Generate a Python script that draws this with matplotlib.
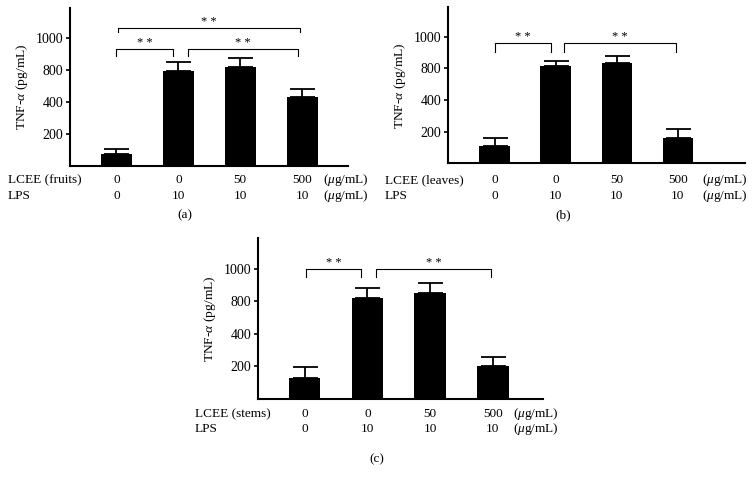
import numpy as np
import matplotlib.pyplot as plt
from matplotlib.transforms import blended_transform_factory

plt.rcParams['font.family'] = ['Liberation Serif', 'DejaVu Serif']
plt.rcParams['mathtext.fontset'] = 'custom'
plt.rcParams['mathtext.rm'] = 'Liberation Serif'
plt.rcParams['mathtext.it'] = 'Liberation Serif:italic'

# data (TNF-alpha, pg/mL)
lcee = ['0', '0', '50', '500']
lps = ['0', '10', '10', '10']
fruits_mean = [71, 792, 818, 456]
fruits_top = [102, 848, 875, 556]
leaves_mean = [111, 812, 833, 162]
leaves_top = [162, 849, 879, 215]
stems_mean = [128, 822, 850, 204]
stems_top = [198, 878, 910, 258]

yticks = [200, 400, 800, 1000]

# the y axis in the source is not linear in its labels
lab = [0, 200, 400, 800, 1000, 1400]
pos = [0, 1, 2, 3, 4, 6]
def fwd(v):
    return np.interp(v, lab, pos)
def inv(p):
    return np.interp(p, pos, lab)

W, H = 753, 482
fig = plt.figure(figsize=(W / 100, H / 100), dpi=100)

def px(x, y):
    return x / W, 1 - y / H

def panel(box, mean, top, name, xlim, brackets, rows_y, label_x, unit_x, tag):
    l, r, b, t = box
    ax = fig.add_axes([l / W, 1 - b / H, (r - l) / W, (b - t) / H])
    ax.set_yscale('function', functions=(fwd, inv))
    x = np.arange(len(mean))
    err = np.array(top) - np.array(mean)
    ax.bar(x, mean, width=0.5, color='black')
    ax.errorbar(x, mean, yerr=[np.zeros(len(mean)), err], fmt='none',
                ecolor='black', elinewidth=1.3, capsize=9, capthick=1.3)
    ax.set_xlim(*xlim)
    ax.set_ylim(0, 1186)
    ax.set_yticks(yticks)
    ax.set_yticklabels([str(v) for v in yticks])
    ax.yaxis.set_minor_locator(plt.NullLocator())
    ax.set_xticks([])
    for s in ['top', 'right']:
        ax.spines[s].set_visible(False)
    for s in ['left', 'bottom']:
        ax.spines[s].set_linewidth(1.5)
    ax.tick_params(axis='y', direction='out', length=3, width=1.2, labelsize=10, pad=2)
    ax.set_ylabel(r'TNF-$\alpha$ (pg/mL)', fontsize=9.7, labelpad=4)

    for x0, x1, yh, yl in brackets:
        ax.plot([x0, x0, x1, x1], [yl, yh, yh, yl], color='black', lw=0.8, clip_on=False)
        ax.text((x0 + x1) / 2, yh, '* *', ha='center', va='bottom', fontsize=9)

    tr = blended_transform_factory(ax.transData, fig.transFigure)
    for i in range(len(mean)):
        ax.text(x[i], px(0, rows_y[0])[1], lcee[i], transform=tr, ha='center', va='center', fontsize=9.5)
        ax.text(x[i], px(0, rows_y[1])[1], lps[i], transform=tr, ha='center', va='center', fontsize=9.5)
    fig.text(*px(label_x, rows_y[0]), 'LCEE (%s)' % name, ha='left', va='center', fontsize=9.5)
    fig.text(*px(label_x, rows_y[1]), 'LPS', ha='left', va='center', fontsize=9.5)
    for y in rows_y:
        fig.text(*px(unit_x, y), r'($\mu$g/mL)', ha='left', va='center', fontsize=9.5)
    fig.text(*px(*tag[1:]), tag[0], ha='center', va='center', fontsize=9.5)
    return ax

panel((70, 348, 165.7, 8.3), fruits_mean, fruits_top, 'fruits', (-0.75, 3.74),
      [(0.02, 2.97, 1062, 1036), (0.0, 0.91, 934, 886), (1.15, 2.94, 934, 886)],
      (180, 195.7), 8, 323, ('(a)', 185, 215))
panel((448.3, 745, 163.3, 7.3), leaves_mean, leaves_top, 'leaves', (-0.76, 4.1),
      [(0.0, 0.93, 960, 902), (1.14, 2.97, 960, 902)],
      (180, 196), 385, 702, ('(b)', 563, 215))
panel((258.3, 543, 399, 238.3), stems_mean, stems_top, 'stems', (-0.74, 3.8),
      [(0.02, 0.9, 998, 946), (1.14, 2.97, 998, 946)],
      (414.3, 429), 195, 513, ('(c)', 377, 459))

fig.savefig('out.png', dpi=100)
